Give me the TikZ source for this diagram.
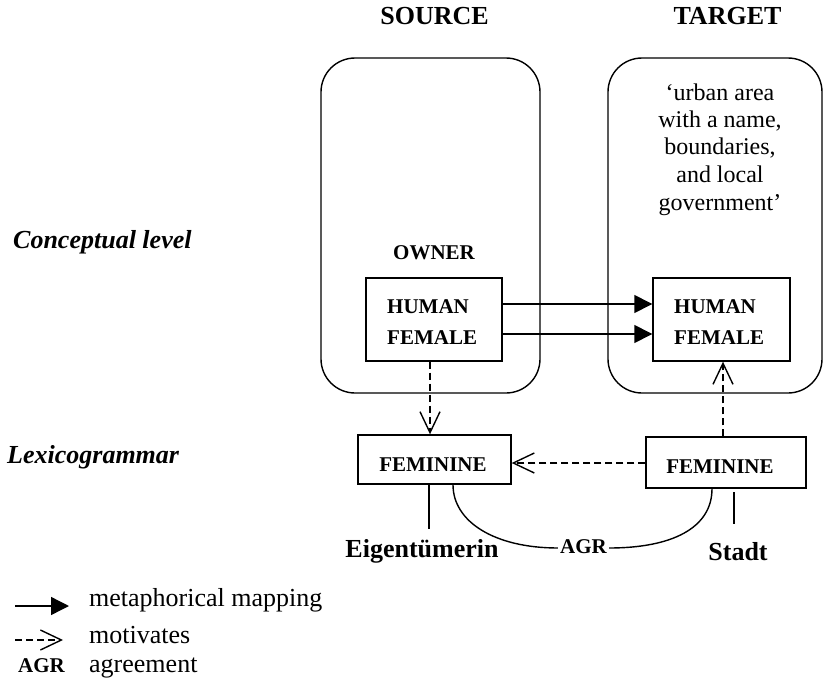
\documentclass[tikz,border=0pt]{standalone}
\usepackage{fontspec}
\setmainfont{Liberation Serif}
\usetikzlibrary{arrows.meta,calc}
\newcommand{\fsz}[2]{\fontsize{#1}{#2}\selectfont}
\begin{document}
\begin{tikzpicture}[x=1pt,y=-1pt,
  lw/.style={line width=1.4pt},
  domainbox/.style={draw,lw,rounded corners=34pt,inner sep=0pt},
  featbox/.style={draw,lw,inner sep=0pt},
  txt/.style={inner sep=0pt,anchor=base},
  mapping/.style={lw,-{Triangle[length=18pt,width=18pt]}},
  motiv/.style={lw,dash pattern=on 7pt off 4pt,
    -{Straight Barb[length=21pt,width=20pt,line width=1.4pt]}},
  link/.style={lw}]
\useasboundingbox (0,0) rectangle (825,685);

% column headings
\node[txt,font=\fsz{26}{30}\bfseries] (hsrc) at (434.5,25) {SOURCE};
\node[txt,font=\fsz{26}{30}\bfseries] (htgt) at (727.5,25) {TARGET};

% level labels
\node[txt,anchor=base west,font=\fsz{26}{30}\bfseries\itshape] (lvlc) at (13,248) {Conceptual level};
\node[txt,anchor=base west,font=\fsz{26}{30}\bfseries\itshape] (lvll) at (7,463) {Lexicogrammar};

% conceptual domains
\node[domainbox,minimum width=219pt,minimum height=335pt] (srcdom) at (430.5,225.5) {};
\node[domainbox,minimum width=214pt,minimum height=335pt] (tgtdom) at (715,225.5) {};

\node[txt,font=\fsz{24}{27.5}] (gloss) at (720,100)
  {\begin{tabular}[t]{@{}c@{}}`urban area\\with a name,\\boundaries,\\and local\\government'\end{tabular}};

\node[txt,font=\fsz{21}{25}\bfseries] (owner) at (434,259) {OWNER};

% feature boxes
\node[featbox,minimum width=136pt,minimum height=83pt] (humL) at (434,319.5) {};
\node[featbox,minimum width=137pt,minimum height=83pt] (humR) at (721.5,319.5) {};
\node[txt,anchor=base west,font=\fsz{21}{31}\bfseries] (humLt) at (387,313)
  {\begin{tabular}[t]{@{}l@{}}HUMAN\\FEMALE\end{tabular}};
\node[txt,anchor=base west,font=\fsz{21}{31}\bfseries] (humRt) at (674,313)
  {\begin{tabular}[t]{@{}l@{}}HUMAN\\FEMALE\end{tabular}};

\node[featbox,minimum width=153pt,minimum height=49pt] (femL) at (434.5,459.5) {};
\node[featbox,minimum width=160pt,minimum height=51pt] (femR) at (726,462.5) {};
\node[txt,font=\fsz{21}{25}\bfseries] at (433,471) {FEMININE};
\node[txt,font=\fsz{21}{25}\bfseries] at (720,473) {FEMININE};

% words
\node[txt,font=\fsz{26}{30}\bfseries] (eig) at (422,557) {Eigentümerin};
\node[txt,font=\fsz{26}{30}\bfseries] (stadt) at (738,560) {Stadt};
\node[txt,font=\fsz{21}{25}\bfseries,inner xsep=2pt] (agr) at (583.5,553) {AGR};

% metaphorical mappings
\draw[mapping] (humL.east |- 0,304) -- (humR.west |- 0,304);
\draw[mapping] (humL.east |- 0,334) -- (humR.west |- 0,334);

% motivation links
\draw[motiv] (humL.south -| 430,0) -- (femL.north -| 430,0);
\draw[motiv] (femR.west |- 0,463) -- (femL.east |- 0,463);
\draw[motiv] (femR.north -| 723,0) -- (humR.south -| 723,0);

% word links
\draw[link] (femL.south -| 429,0) -- (429,529);
\draw[link] (734,492) -- (734,524);
\coordinate (agrL) at (agr.west |- 0,548);
\coordinate (agrR) at (agr.east |- 0,548);
\draw[link] (femL.south -| 453,0) .. controls (453,522) and (495,548) .. (agrL);
\draw[link] (agrR) .. controls (672,548) and (712,528) .. (femR.south -| 712,0);

% legend
\coordinate (lg1a) at (15,606); \coordinate (lg1b) at (69,606);
\coordinate (lg2a) at (15,640); \coordinate (lg2b) at (63,640);
\draw[mapping] (lg1a) -- (lg1b);
\draw[motiv] (lg2a) -- (lg2b);
\node[txt,anchor=base west,font=\fsz{26}{30}] at (89,606) {metaphorical mapping};
\node[txt,anchor=base west,font=\fsz{26}{30}] at (89,643) {motivates};
\node[txt,anchor=base west,font=\fsz{21}{25}\bfseries] at (18,672) {AGR};
\node[txt,anchor=base west,font=\fsz{26}{30}] at (89,672) {agreement};
\end{tikzpicture}
\end{document}
